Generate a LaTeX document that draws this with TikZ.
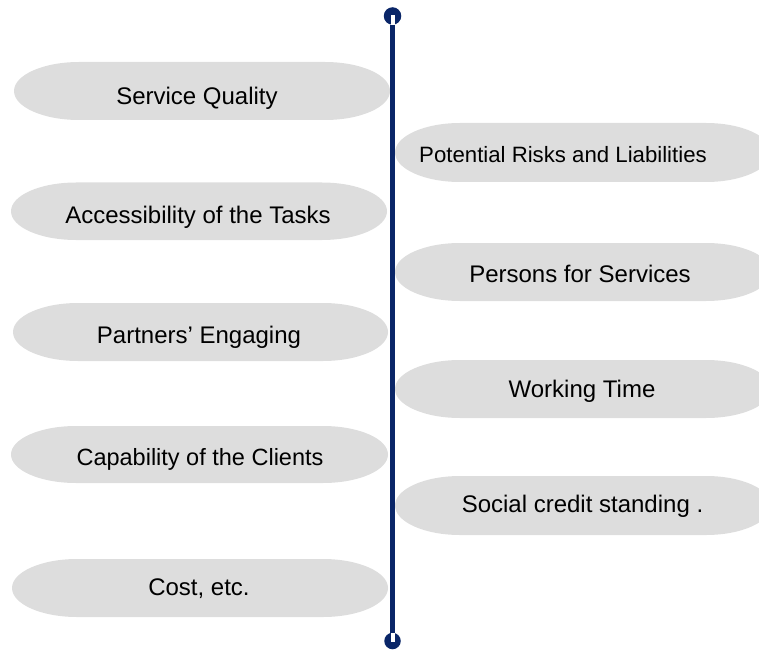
\documentclass[tikz,border=0pt]{standalone}
\usepackage{fontspec}
\setmainfont{Liberation Sans}
\definecolor{navy}{RGB}{10,38,104}
\definecolor{pillgray}{RGB}{221,221,221}
\newcommand\pillshape[4]{%
  \fill[pillgray] (#1+65,649-#2) -- (#3-65,649-#2)
    arc[start angle=90,end angle=-90,x radius=65,y radius={(#4-#2)/2}]
    -- (#1+65,649-#4)
    arc[start angle=270,end angle=90,x radius=65,y radius={(#4-#2)/2}] -- cycle;}
\begin{document}
\begin{tikzpicture}[x=1pt,y=1pt,
  lbl/.style={anchor=base,inner sep=0pt,font=\fontsize{24}{28}\selectfont,text=black},
  endcap/.style={circle,fill=navy,inner sep=0pt,minimum size=17.5pt}]
\useasboundingbox (0,0) rectangle (759,649);
\clip (0,0) rectangle (759,649);
% left pills
\pillshape{14}{62}{390}{120}
\pillshape{11}{182.5}{387}{240}
\pillshape{13}{303}{388}{361}
\pillshape{11}{426}{388}{483}
\pillshape{12}{559}{388}{617}
% right pills
\pillshape{395}{123}{771}{182}
\pillshape{395}{243}{771}{301}
\pillshape{395}{360}{771}{418}
\pillshape{395}{476}{771}{535}
% labels
\node[lbl] (sq)   at (197,649-105) {Service Quality};
\node[lbl] (acc)  at (198,649-223) {Accessibility of the Tasks};
\node[lbl] (part) at (199,649-343) {Partners’ Engaging};
\node[lbl,font=\fontsize{23.5}{28}\selectfont] (cap)  at (200,649-465) {Capability of the Clients};
\node[lbl] (cost) at (199,649-595) {Cost, etc.};
\node[lbl,font=\fontsize{22.2}{26}\selectfont] (risk) at (563,649-163) {Potential Risks and Liabilities};
\node[lbl] (pers) at (580,649-282) {Persons for Services};
\node[lbl] (work) at (582,649-397) {Working Time};
\node[lbl] (soc)  at (582.5,649-512) {Social credit standing .};
% axis
\node[endcap] (topend) at (392.5,649-16) {};
\node[endcap,minimum size=16.5pt] (botend) at (392.5,649-641) {};
\fill[white] (390.5,649-15) rectangle (394.5,649-24.7);
\fill[white] (390.5,649-632.8) rectangle (394.5,649-642);
\draw[navy,line width=5pt] (topend.south) -- (botend.north);
\end{tikzpicture}
\end{document}
